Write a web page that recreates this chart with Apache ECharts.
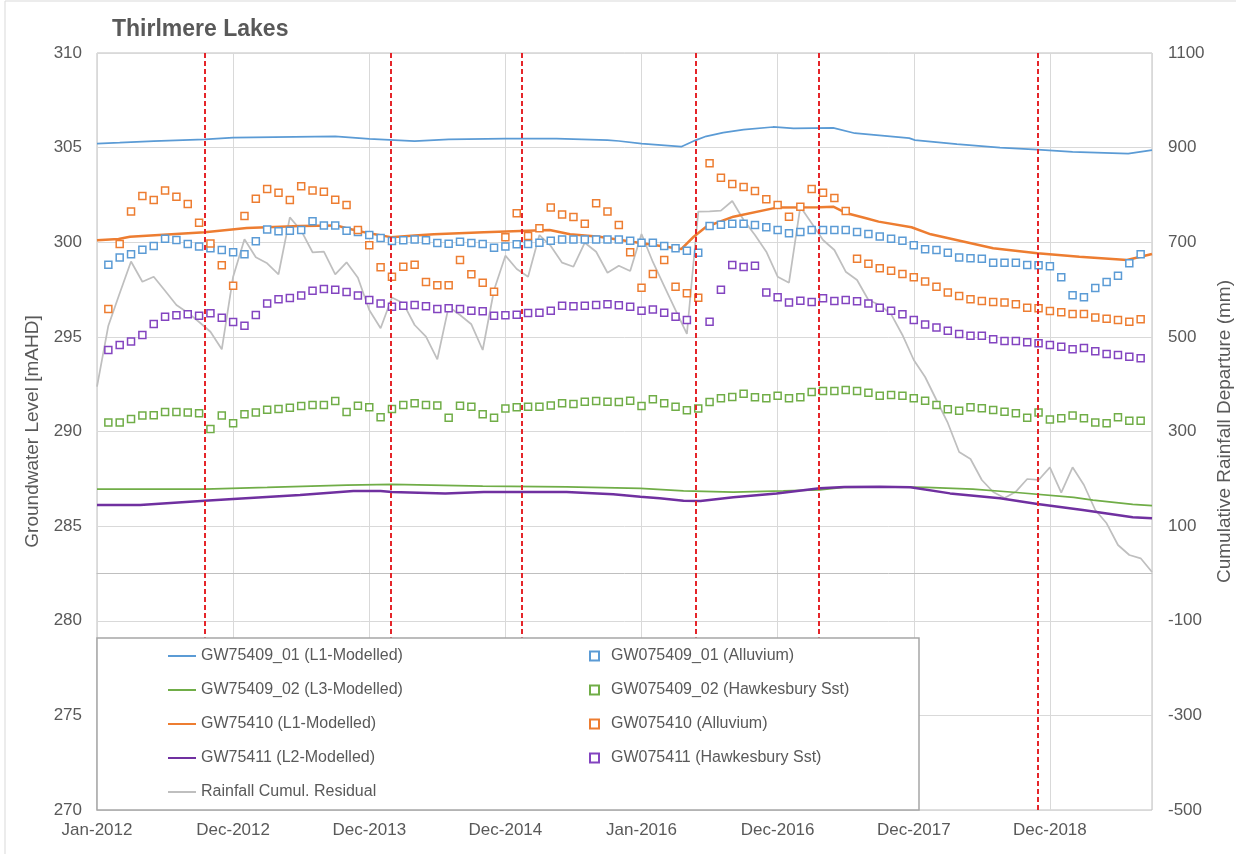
<!DOCTYPE html>
<html>
<head>
<meta charset="utf-8">
<script src="https://cdn.jsdelivr.net/npm/echarts@6/dist/echarts.min.js"></script>
<style>
  html, body { margin: 0; padding: 0; background: #fff; }
  #chart { width: 1236px; height: 854px; }
</style>
</head>
<body>
<div id="chart"></div>
<script>
// x is counted in months from 1 Jan 2012 (0 = 1 Jan 2012, 12 = ~31 Dec 2012 ...)
const tickLabels = ['Jan-2012', 'Dec-2012', 'Dec-2013', 'Dec-2014', 'Jan-2016', 'Dec-2016', 'Dec-2017', 'Dec-2018'];

// red dashed event lines (months from Jan 2012)
const eventMonths = [9.5, 25.9, 37.4, 52.8, 63.6, 82.9];

// modelled levels, vertices [month, mAHD]
const l1_409Months = [0, 2, 5, 9.5, 12, 21, 24, 28, 31, 36, 40.5, 45, 46, 48, 51.5, 52.8, 53.7, 55.2, 57, 59.6, 61.4, 64.9, 66.8, 71.6, 72.1, 75.8, 79.6, 82.9, 86, 90.9, 93];
const l1_409Levels = [305.21, 305.26, 305.35, 305.44, 305.53, 305.60, 305.46, 305.35, 305.44, 305.47, 305.47, 305.40, 305.35, 305.21, 305.05, 305.40, 305.60, 305.79, 305.95, 306.09, 306.02, 306.04, 305.76, 305.50, 305.40, 305.19, 305.00, 304.89, 304.78, 304.68, 304.87];

const l3_409Months = [0, 9.5, 15, 22, 26, 34, 41.4, 47.9, 51.7, 56.1, 60.5, 63.7, 65.8, 69.6, 73.1, 77.2, 80.8, 86.1, 87.8, 91.3, 93];
const l3_409Levels = [286.96, 286.96, 287.05, 287.17, 287.21, 287.12, 287.08, 287.00, 286.86, 286.80, 286.86, 286.92, 287.05, 287.08, 287.05, 286.95, 286.79, 286.52, 286.38, 286.15, 286.08];

const l1_410Months = [0, 1.9, 2.9, 9.5, 13.2, 17.9, 21.1, 22, 24, 25.9, 28, 29.7, 34.1, 39.9, 41.7, 44.3, 47.3, 51.5, 52.6, 53.7, 56.1, 59.9, 63.7, 64.9, 66.1, 67.8, 68.9, 71.8, 73.5, 79, 82.9, 86.6, 90.8, 93];
const l1_410Levels = [300.10, 300.17, 300.29, 300.53, 300.75, 300.86, 300.89, 300.74, 300.47, 300.27, 300.36, 300.42, 300.53, 300.65, 300.42, 300.29, 300.01, 299.64, 300.29, 300.82, 301.35, 301.83, 301.85, 301.88, 301.53, 301.27, 301.09, 300.79, 300.42, 299.68, 299.42, 299.24, 299.06, 299.38];

const l2_411Months = [0, 3.8, 9.5, 12, 17.9, 22.6, 25, 26, 30.7, 34.1, 41.4, 45.5, 47.9, 49.6, 51.7, 53.2, 56.1, 59.9, 63.7, 65.9, 69, 71.7, 75.2, 79.6, 82.9, 86.9, 91.3, 93];
const l2_411Levels = [286.12, 286.12, 286.34, 286.43, 286.64, 286.86, 286.86, 286.80, 286.73, 286.80, 286.80, 286.68, 286.55, 286.47, 286.34, 286.33, 286.52, 286.73, 287.00, 287.07, 287.08, 287.05, 286.73, 286.47, 286.17, 285.85, 285.47, 285.41];

// cumulative rainfall departure (mm), index = month from Jan 2012
const rainfallResidual = [
  394.7, 523.6, 592.1, 659.3, 616.6, 627.2, 597.6, 567.4, 551.1, 531.4, 510.9, 473.7,
  627.2, 706.2, 668.2, 655.5, 632.3, 752.7, 724.4, 678.8, 680.0, 632.3, 657.6, 625.1,
  556.8, 518.1, 583.2, 571.0, 525.1, 500.4, 452.6, 563.8, 546.2, 526.6, 472.3, 599.1,
  671.6, 643.5, 627.2, 715.3, 692.1, 656.8, 648.3, 699.0, 680.0, 635.6, 650.4, 639.2,
  717.4, 658.3, 607.5, 556.8, 506.1, 764.7, 765.5, 766.7, 787.2, 747.0, 715.3, 680.0,
  627.2, 614.5, 775.1, 740.0, 704.8, 683.6, 637.8, 620.2, 578.0, 567.4, 548.0, 504.0,
  451.1, 415.2, 366.6, 318.0, 256.7, 241.9, 197.5, 172.1, 159.4, 172.8, 199.6, 197.5,
  224.3, 170.7, 224.3, 186.9, 134.1, 106.0, 60.1, 39.0, 32.0, 3.0
];

// monthly observations (mAHD), first value = end of Jan 2012
const gw075409_01 = [
  298.81, 299.20, 299.36, 299.61, 299.80, 300.19, 300.12, 299.91, 299.77, 299.68, 299.59, 299.47,
  299.36, 300.05, 300.68, 300.58, 300.61, 300.65, 301.11, 300.89, 300.89, 300.61, 300.54, 300.38,
  300.22, 300.07, 300.10, 300.15, 300.10, 299.96, 299.92, 300.03, 299.96, 299.91, 299.71, 299.77,
  299.89, 299.91, 299.98, 300.08, 300.15, 300.15, 300.15, 300.15, 300.15, 300.15, 300.08, 299.98,
  299.98, 299.80, 299.68, 299.55, 299.45, 300.86, 300.93, 300.98, 300.98, 300.91, 300.79, 300.65,
  300.47, 300.54, 300.65, 300.65, 300.65, 300.65, 300.54, 300.44, 300.30, 300.19, 300.08, 299.84,
  299.63, 299.59, 299.45, 299.20, 299.15, 299.13, 298.92, 298.92, 298.92, 298.80, 298.78, 298.73,
  298.15, 297.20, 297.09, 297.58, 297.90, 298.23, 298.89, 299.36
];
const gw075409_02 = [
  290.47, 290.47, 290.66, 290.84, 290.86, 291.03, 291.03, 291.00, 290.96, 290.13, 290.84, 290.43,
  290.91, 291.00, 291.15, 291.19, 291.26, 291.35, 291.40, 291.40, 291.61, 291.03, 291.36, 291.28,
  290.75, 291.19, 291.40, 291.49, 291.40, 291.38, 290.73, 291.36, 291.31, 290.91, 290.73, 291.21,
  291.28, 291.31, 291.31, 291.38, 291.49, 291.45, 291.57, 291.61, 291.57, 291.56, 291.63, 291.35,
  291.70, 291.49, 291.31, 291.12, 291.21, 291.56, 291.76, 291.82, 292.00, 291.81, 291.76, 291.89,
  291.76, 291.81, 292.09, 292.14, 292.14, 292.19, 292.14, 292.05, 291.89, 291.93, 291.89, 291.76,
  291.63, 291.40, 291.17, 291.10, 291.28, 291.23, 291.14, 291.05, 290.96, 290.73, 291.01, 290.64,
  290.70, 290.84, 290.70, 290.47, 290.43, 290.75, 290.57, 290.57
];
const gw075410 = [
  296.47, 299.91, 301.62, 302.44, 302.23, 302.74, 302.41, 302.02, 301.03, 299.94, 298.78, 297.70,
  301.39, 302.30, 302.81, 302.62, 302.23, 302.96, 302.74, 302.67, 302.25, 301.97, 300.65, 299.84,
  298.68, 298.18, 298.71, 298.81, 297.90, 297.73, 297.73, 299.06, 298.31, 297.86, 297.39, 300.26,
  301.53, 300.33, 300.74, 301.83, 301.46, 301.33, 300.98, 302.06, 301.62, 300.91, 299.47, 297.60,
  298.32, 299.06, 297.65, 297.30, 297.07, 304.17, 303.41, 303.08, 302.92, 302.71, 302.27, 301.97,
  301.35, 301.88, 302.81, 302.62, 302.34, 301.65, 299.13, 298.87, 298.62, 298.50, 298.32, 298.15,
  297.92, 297.65, 297.35, 297.16, 296.99, 296.90, 296.84, 296.81, 296.72, 296.54, 296.51, 296.37,
  296.30, 296.21, 296.21, 296.03, 295.96, 295.89, 295.80, 295.93
];
const gw075411 = [
  294.31, 294.57, 294.75, 295.10, 295.68, 296.07, 296.14, 296.19, 296.12, 296.25, 296.01, 295.79,
  295.59, 296.16, 296.77, 296.99, 297.05, 297.18, 297.44, 297.53, 297.49, 297.37, 297.18, 296.95,
  296.77, 296.59, 296.65, 296.68, 296.62, 296.47, 296.51, 296.47, 296.38, 296.35, 296.12, 296.14,
  296.17, 296.26, 296.28, 296.38, 296.65, 296.62, 296.65, 296.68, 296.72, 296.67, 296.59, 296.38,
  296.45, 296.28, 296.07, 295.89, null, 295.80, 297.49, 298.80, 298.69, 298.76, 297.34, 297.09,
  296.81, 296.91, 296.84, 297.04, 296.90, 296.95, 296.88, 296.77, 296.54, 296.38, 296.19, 295.89,
  295.66, 295.50, 295.33, 295.15, 295.06, 295.06, 294.87, 294.78, 294.78, 294.71, 294.66, 294.57,
  294.48, 294.34, 294.41, 294.24, 294.10, 294.04, 293.95, 293.87
];

const FONT = 'Liberation Sans, Arial, sans-serif';
const TEXT_COLOR = '#595959';

function pairs(xs, ys) {
  return xs.map((x, i) => [x, ys[i]]);
}

function monthly(values) {
  return values.map((v, i) => [i + 1, v == null ? '-' : v]);
}

function modelLine(name, color, width, xs, ys) {
  return {
    name: name,
    type: 'line',
    symbol: 'none',
    smooth: false,
    data: pairs(xs, ys),
    lineStyle: {color: color, width: width},
    itemStyle: {color: color},
    z: 3,
  };
}

function obsSeries(name, color, values) {
  return {
    name: name,
    type: 'scatter',
    symbol: 'rect',
    symbolSize: 7,
    data: monthly(values),
    itemStyle: {color: '#fff', borderColor: color, borderWidth: 1.5, opacity: 1},
    z: 4,
  };
}

const chart = echarts.init(document.getElementById('chart'));

const lineNames = ['GW75409_01 (L1-Modelled)', 'GW75409_02 (L3-Modelled)', 'GW75410 (L1-Modelled)', 'GW75411 (L2-Modelled)', 'Rainfall Cumul. Residual'];
const obsNames = ['GW075409_01 (Alluvium)', 'GW075409_02 (Hawkesbury Sst)', 'GW075410 (Alluvium)', 'GW075411 (Hawkesbury Sst)'];

const blueLine = modelLine(lineNames[0], '#5b9bd5', 1.75, l1_409Months, l1_409Levels);
blueLine.markLine = {
  silent: true,
  symbol: 'none',
  label: {show: false},
  lineStyle: {color: '#e5252a', type: [5, 3], width: 2},
  data: eventMonths.map((m) => ({xAxis: m})),
};

const rainfall = {
  name: lineNames[4],
  type: 'line',
  yAxisIndex: 1,
  symbol: 'none',
  data: rainfallResidual.map((v, i) => [i, v]),
  lineStyle: {color: '#bfbfbf', width: 1.75},
  itemStyle: {color: '#bfbfbf'},
  z: 2,
};

const legendText = {fontFamily: FONT, fontSize: 16, color: TEXT_COLOR, lineHeight: 16};

chart.setOption({
  animation: false,
  backgroundColor: '#fff',
  textStyle: {fontFamily: FONT},
  title: {
    text: 'Thirlmere Lakes',
    left: 112,
    top: 18,
    padding: 0,
    textStyle: {fontFamily: FONT, fontSize: 23, fontWeight: 'bold', color: TEXT_COLOR},
  },
  grid: {
    left: 97, right: 84, top: 53, bottom: 44,
    outerBoundsMode: 'none',
    containLabel: false,
    show: true, borderColor: '#bfbfbf', borderWidth: 1,
  },
  graphic: [
    {
      type: 'rect', z: -10, silent: true,
      shape: {x: 5, y: 1, width: 1400, height: 1000},
      style: {fill: 'none', stroke: '#d9d9d9', lineWidth: 1},
    },
    {
      type: 'rect', z: 50, silent: true,
      shape: {x: 97, y: 638, width: 822, height: 172},
      style: {fill: '#fff', stroke: '#a6a6a6', lineWidth: 1.5},
    },
  ],
  legend: [
    {
      data: lineNames,
      orient: 'vertical',
      left: 168, top: 648, padding: 0,
      icon: 'rect',
      itemWidth: 28, itemHeight: 2, itemGap: 18,
      selectedMode: false,
      textStyle: legendText,
      z: 60,
    },
    {
      data: obsNames,
      orient: 'vertical',
      left: 589, top: 648, padding: 0,
      itemWidth: 9, itemHeight: 9, itemGap: 18,
      selectedMode: false,
      textStyle: Object.assign({padding: [0, 0, 0, 7]}, legendText),
      z: 60,
    },
  ],
  xAxis: {
    type: 'value',
    min: 0, max: 93, interval: 12,
    axisLine: {show: true, lineStyle: {color: '#bfbfbf'}},
    axisTick: {show: false},
    splitLine: {show: true, lineStyle: {color: '#d9d9d9', width: 1}},
    axisLabel: {
      color: TEXT_COLOR, fontSize: 17, fontFamily: FONT, margin: 12,
      formatter: (v) => (v % 12 === 0 ? tickLabels[v / 12] : ''),
    },
  },
  yAxis: [
    {
      type: 'value',
      min: 270, max: 310, interval: 5,
      name: 'Groundwater Level [mAHD]',
      nameLocation: 'middle', nameGap: 55,
      nameTextStyle: {color: TEXT_COLOR, fontSize: 19, fontFamily: FONT},
      axisLine: {show: false}, axisTick: {show: false},
      splitLine: {show: true, lineStyle: {color: '#d9d9d9', width: 1}},
      axisLabel: {color: TEXT_COLOR, fontSize: 17, fontFamily: FONT, margin: 15},
    },
    {
      type: 'value',
      min: -500, max: 1100, interval: 200,
      name: 'Cumulative Rainfall Departure (mm)',
      nameLocation: 'middle', nameGap: 62,
      nameTextStyle: {color: TEXT_COLOR, fontSize: 19, fontFamily: FONT},
      axisLine: {show: false}, axisTick: {show: false},
      splitLine: {show: false},
      axisLabel: {color: TEXT_COLOR, fontSize: 17, fontFamily: FONT, margin: 16, formatter: (v) => String(v)},
    },
  ],
  series: [
    rainfall,
    blueLine,
    modelLine(lineNames[1], '#70ad47', 1.75, l3_409Months, l3_409Levels),
    modelLine(lineNames[2], '#ed7d31', 2.5, l1_410Months, l1_410Levels),
    modelLine(lineNames[3], '#7030a0', 2.5, l2_411Months, l2_411Levels),
    obsSeries(obsNames[0], '#5b9bd5', gw075409_01),
    obsSeries(obsNames[1], '#70ad47', gw075409_02),
    obsSeries(obsNames[2], '#ed7d31', gw075410),
    obsSeries(obsNames[3], '#8344c0', gw075411),
  ],
});
</script>
</body>
</html>
